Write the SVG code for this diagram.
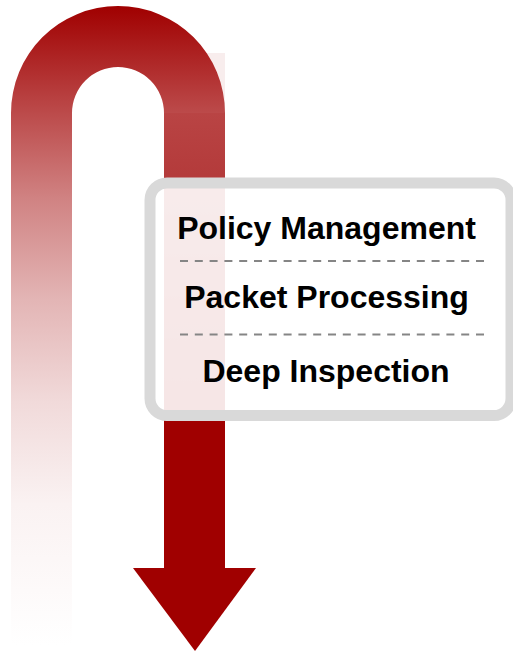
<svg xmlns="http://www.w3.org/2000/svg" width="513" height="652" viewBox="0 0 513 652">
  <defs>
    <linearGradient id="fadeU" gradientUnits="userSpaceOnUse" x1="0" y1="6" x2="0" y2="645">
      <stop offset="0" stop-color="#a00000"/>
      <stop offset="0.15" stop-color="#b94343"/>
      <stop offset="0.30" stop-color="#d08282"/>
      <stop offset="0.46" stop-color="#e3b5b5"/>
      <stop offset="0.62" stop-color="#f1dada"/>
      <stop offset="0.78" stop-color="#faf2f2"/>
      <stop offset="1" stop-color="#ffffff"/>
    </linearGradient>
    <linearGradient id="shaft" gradientUnits="userSpaceOnUse" x1="0" y1="113" x2="0" y2="420">
      <stop offset="0" stop-color="#b94444"/>
      <stop offset="0.2" stop-color="#b43b3b"/>
      <stop offset="1" stop-color="#a00000"/>
    </linearGradient>
    <style>
      .label { font-family: "Liberation Sans", Arial, sans-serif; font-weight: bold; font-size: 32px; fill: #000; text-anchor: middle; }
      .sep { stroke: #858585; stroke-width: 2; stroke-dasharray: 8 6.8; fill: none; }
    </style>
  </defs>

  <g id="arrow">
    <rect x="164" y="53" width="61" height="60" fill="#f8eded"/>
    <rect x="164" y="112.5" width="61" height="456.5" fill="url(#shaft)"/>
    <path d="M11,645 L11,113 A107,107 0 0 1 225,113 L164,113 A46,46 0 0 0 72,113 L72,645 Z" fill="url(#fadeU)"/>
    <polygon points="133,568 256,568 195,651" fill="#a00000"/>
  </g>

  <g id="box">
    <rect x="150" y="183" width="361" height="232.5" rx="17" ry="17" fill="#ffffff" fill-opacity="0.9" stroke="#d9d9d9" stroke-width="11"/>
  </g>

  <g id="connectors">
    <line class="sep" x1="180" y1="261" x2="488" y2="261"/>
    <line class="sep" x1="180" y1="334.5" x2="488" y2="334.5"/>
  </g>

  <g id="policy-management">
    <text class="label" x="326.5" y="239">Policy Management</text>
  </g>
  <g id="packet-processing">
    <text class="label" x="326.5" y="308">Packet Processing</text>
  </g>
  <g id="deep-inspection">
    <text class="label" x="326" y="381.5">Deep Inspection</text>
  </g>
</svg>
